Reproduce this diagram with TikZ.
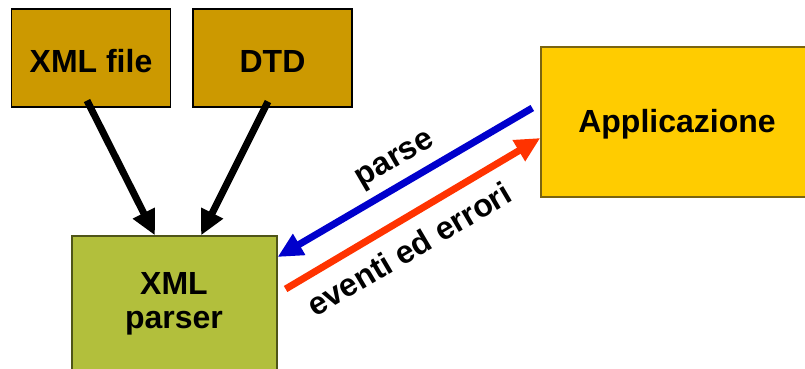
\documentclass[tikz,border=0pt]{standalone}
\usepackage{fontspec}
\setmainfont{Liberation Sans}
\usetikzlibrary{arrows.meta}
\definecolor{ochre}{HTML}{CC9900}
\definecolor{gold}{HTML}{FFCC00}
\definecolor{goldline}{HTML}{7A6410}
\definecolor{olive}{HTML}{B2BF3C}
\definecolor{oliveline}{HTML}{4F5518}
\definecolor{callblue}{HTML}{0000CC}
\definecolor{evred}{HTML}{FF3300}
\tikzset{
  srcbox/.style={draw=black, line width=1.1pt, fill=ochre, minimum width=159pt, minimum height=98pt, inner sep=0pt},
  appbox/.style={draw=goldline, line width=1.4pt, fill=gold, inner sep=0pt},
  parserbox/.style={draw=oliveline, line width=1.2pt, fill=olive, inner sep=0pt},
  lbl/.style={font=\bfseries\fontsize{32}{36}\selectfont, text=black, inner sep=0pt},
  flow/.style={line width=7pt, -{Triangle[length=25pt,width=23pt]}},
}
\begin{document}
\begin{tikzpicture}[x=1pt,y=-1pt]
\useasboundingbox (0,0) rectangle (805,369);
% source boxes
\node[srcbox] (xmlfile) at (91,58) {};
\node[lbl] at (91,61) {XML file};
\node[srcbox] (dtd) at (272.5,58) {};
\node[lbl] at (272.5,61) {DTD};
% application box, running off the right edge
\node[appbox, minimum width=280pt, minimum height=150pt] (app) at (681,122) {};
\node[lbl] at (677,124) {Applicazione};
% parser box, running off the bottom edge
\node[parserbox, minimum width=205pt, minimum height=164pt] (parser) at (174.5,318) {};
\node[lbl, align=center] (parsertext) at (174,304) {XML\\[-2pt]parser};
% inputs to the parser
\draw[flow, black] ([xshift=-4pt,yshift=7pt]xmlfile.south) -- ([xshift=-19.5pt]parser.north);
\draw[flow, black] ([xshift=-4.5pt,yshift=6pt]dtd.south) -- ([xshift=26.5pt]parser.north);
% exchange with the application
\draw[flow, callblue] ([xshift=-8pt,yshift=14pt]app.west) -- ([yshift=61pt]parser.east);
\draw[flow, evred] ([xshift=8pt,yshift=29pt]parser.east) -- ([yshift=-16pt]app.west);
\node[lbl, rotate=30.2] (parselbl) at (396,161) {parse};
\node[lbl, rotate=30.5] (evlbl) at (409,249) {eventi ed errori};
\end{tikzpicture}
\end{document}
